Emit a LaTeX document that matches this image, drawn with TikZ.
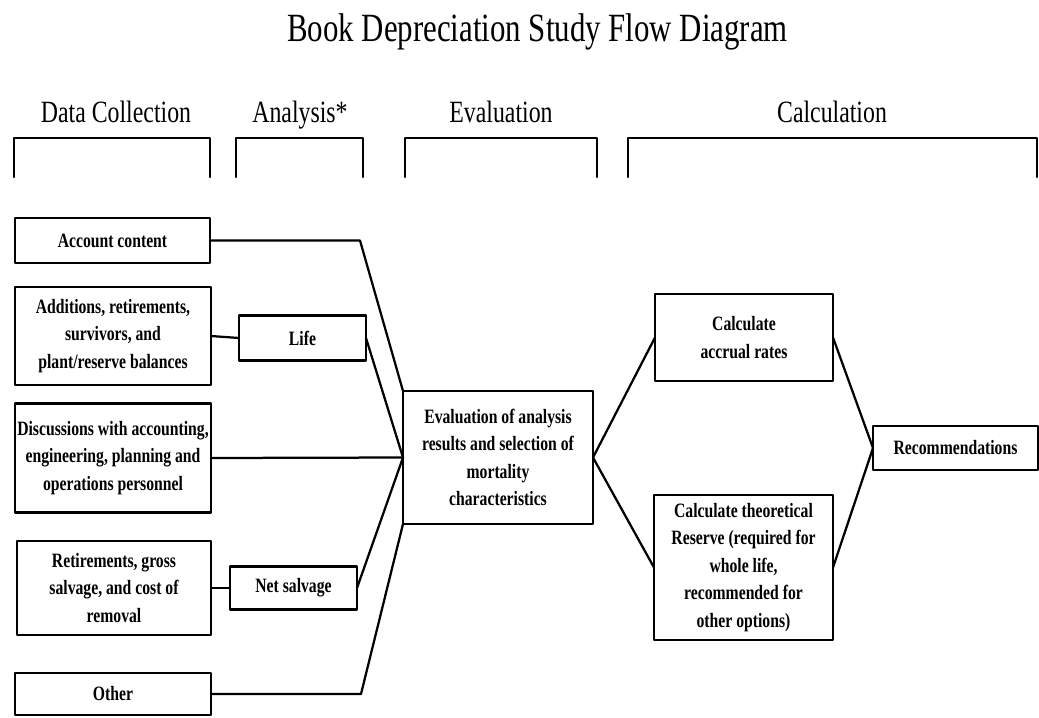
\documentclass[tikz,border=0pt]{standalone}
\usepackage{fontspec}
\newfontfamily\diagfont[FakeStretch=0.77]{Liberation Serif}
\begin{document}
\begin{tikzpicture}[x=0.25mm, y=-0.25mm, line join=round, line cap=round,
	box/.style={draw, line width=1.6pt, inner sep=0pt, outer sep=0pt, align=center,
		font=\diagfont\bfseries\fontsize{14.5}{19.5}\selectfont},
	link/.style={line width=1.6pt},
	bracket/.style={line width=1.8pt},
	head/.style={anchor=base, font=\diagfont\fontsize{22}{26}\selectfont}]
	\useasboundingbox (0,0) rectangle (1039,717);
	% title and column heads
	\node[anchor=base, font=\diagfont\fontsize{28.5}{32}\selectfont] (title) at (537.5,41) {Book Depreciation Study Flow Diagram};
	\node[head] (hdata) at (116,122) {Data Collection};
	\node[head] (hanal) at (300,122) {Analysis*};
	\node[head] (heval) at (501,122) {Evaluation};
	\node[head] (hcalc) at (832,122) {Calculation};
	\foreach \l/\r in {14/210, 236/363, 405/597, 628/1037}
		\draw[bracket] (\l,177) -- (\l,138) -- (\r,138) -- (\r,177);
	% data collection
	\node[box, minimum width=48.75mm, minimum height=11.25mm] (acct) at (112.5,240.5) {Account content};
	\node[box, minimum width=49mm, minimum height=24.5mm] (addit) at (113,336) {Additions, retirements,\\ survivors, and\\ plant/reserve balances};
	\node[box, minimum width=49mm, minimum height=27.25mm] (discuss) at (113,458) {Discussions with accounting,\\ engineering, planning and\\ operations personnel};
	\node[box, minimum width=48.5mm, minimum height=23.5mm] (retire) at (114,588) {Retirements, gross\\ salvage, and cost of\\ removal};
	\node[box, minimum width=49mm, minimum height=10.5mm] (other) at (113,694) {Other};
	% analysis
	\node[box, minimum width=31.75mm, minimum height=11.25mm] (life) at (302.5,338) {Life};
	\node[box, minimum width=31.75mm, minimum height=10.75mm] (netsal) at (293.5,588) {Net salvage};
	% evaluation
	\node[box, minimum width=47.5mm, minimum height=33.25mm] (eval) at (498,457.5) {Evaluation of analysis\\ results and selection of\\ mortality\\ characteristics};
	% calculation
	\node[box, minimum width=44.5mm, minimum height=21.75mm] (accrual) at (744,337.5) {Calculate\\ accrual rates};
	\node[box, minimum width=44.75mm, minimum height=36.25mm] (theo) at (743.5,567.5) {Calculate theoretical\\ Reserve (required for\\ whole life,\\ recommended for\\ other options)};
	\node[box, minimum width=41.25mm, minimum height=11mm] (recom) at (955.5,448) {Recommendations};
	% connectors
	\draw[link] (acct.east) -- ++(150,0) -- (eval.north west);
	\draw[link] (addit.east) -- (life.west);
	\draw[link] (retire.east) -- (netsal.west);
	\draw[link] (life.east) -- (eval.west);
	\draw[link] (discuss.east) -- (eval.west);
	\draw[link] (netsal.east) -- (eval.west);
	\draw[link] (other.east) -- ++(150,0) -- (eval.south west);
	\draw[link] (eval.east) -- (accrual.west);
	\draw[link] (eval.east) -- (theo.west);
	\draw[link] (accrual.east) -- (recom.west);
	\draw[link] (theo.east) -- (recom.west);
\end{tikzpicture}
\end{document}
